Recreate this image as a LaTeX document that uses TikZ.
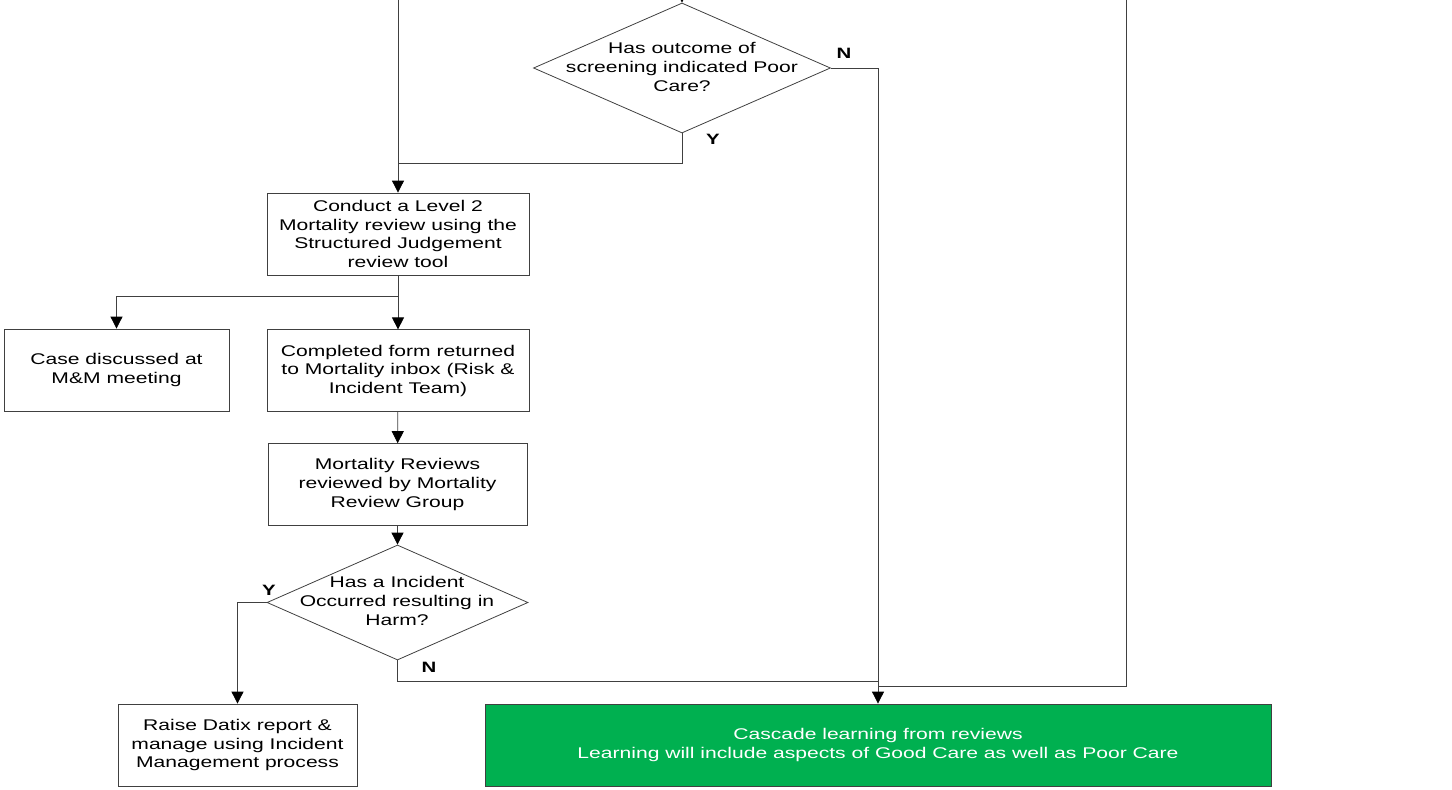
\documentclass[tikz,border=0pt]{standalone}
\usepackage{fontspec}
\setmainfont{Liberation Sans}
\newfontfamily\boxfont[FakeStretch=1.36]{Liberation Sans}
\usetikzlibrary{shapes.geometric,arrows,arrows.meta,positioning}
\definecolor{cascadegreen}{RGB}{0,176,80}

\begin{document}
\begin{tikzpicture}[x=1pt,y=-1pt,>={Triangle[length=12pt,width=12pt,color=black]}]
\tikzstyle{box}=[rectangle,draw=black!75,line width=0.8pt,
align=center,inner sep=2pt,minimum height=82pt,
font=\boxfont\fontsize{15.5}{18.7}\selectfont]
\tikzstyle{decision}=[diamond,draw=black!75,line width=0.8pt,inner sep=0pt]
\tikzstyle{txt}=[align=center,font=\boxfont\fontsize{15.5}{18.7}\selectfont]
\tikzstyle{yn}=[font=\boxfont\fontsize{15}{18}\selectfont\bfseries]
\tikzstyle{line}=[draw=black!75,line width=0.8pt]

\clip (0,0) rectangle (1452,790);
\useasboundingbox (0,0) rectangle (1452,790);

% decision at the top
\node[decision,minimum width=297pt,minimum height=130pt] at (682,68) (d1) {};
\node[txt] at (682,67) (d1text) {Has outcome of\\screening indicated Poor\\Care?};

% main column
\node[box,minimum width=262pt] at (398,234) (lvl2) {Conduct a Level 2\\Mortality review using the\\Structured Judgement\\review tool};
\node[box,minimum width=262pt,below=54pt of lvl2] (form) {Completed form returned\\to Mortality inbox (Risk \&\\Incident Team)};
\node[box,minimum width=225pt] at (116.5,370) (case) {Case discussed at\\M\&M meeting};
\node[box,minimum width=259pt,below=31pt of form,xshift=-0.5pt] (group) {Mortality Reviews\\reviewed by Mortality\\Review Group};
\node[decision,minimum width=261pt,minimum height=115pt] at (397.5,602.5) (d2) {};
\node[txt] at (397,601) (d2text) {Has a Incident\\Occurred resulting in\\Harm?};
\node[box,minimum width=239pt] at (237.5,745) (datix) {Raise Datix report \&\\manage using Incident\\Management process};
\node[box,minimum width=786pt,fill=cascadegreen,text=white] at (878,745) (cascade) {Cascade learning from reviews\\Learning will include aspects of Good Care as well as Poor Care};

% Y / N labels
\node[yn] at (844,53) (n1) {N};
\node[yn] at (713,139) (y1) {Y};
\node[yn] at (269,590) (y2) {Y};
\node[yn] at (429,667) (n2) {N};

% joints
\coordinate (topleft) at (398,-20);
\coordinate (topmid) at (682,-20);
\coordinate (topright) at (1126,-20);
\coordinate (join1) at (398,163);
\coordinate (split) at (398,296);
\coordinate (join2) at (878,681);
\coordinate (join3) at (878,686);

\draw[line,->] (topleft) -- (lvl2.north);
\draw[line,->] (topmid) -- (d1.north);
\path[line] (d1.south) |- (join1);
\path[line,->] (d1.east) -| (cascade.north);
\path[line] (topright) |- (join3);
\path[line] (lvl2.south) -- (split);
\path[line,->] (split) -| (case.north);
\path[line,->] (split) -- (form.north);
\path[line,->] (form) -- (group);
\path[line,->] (group) -- (d2.north);
\path[line,->] (d2.west) -| (datix.north);
\path[line] (d2.south) |- (join2);

\end{tikzpicture}
\end{document}
